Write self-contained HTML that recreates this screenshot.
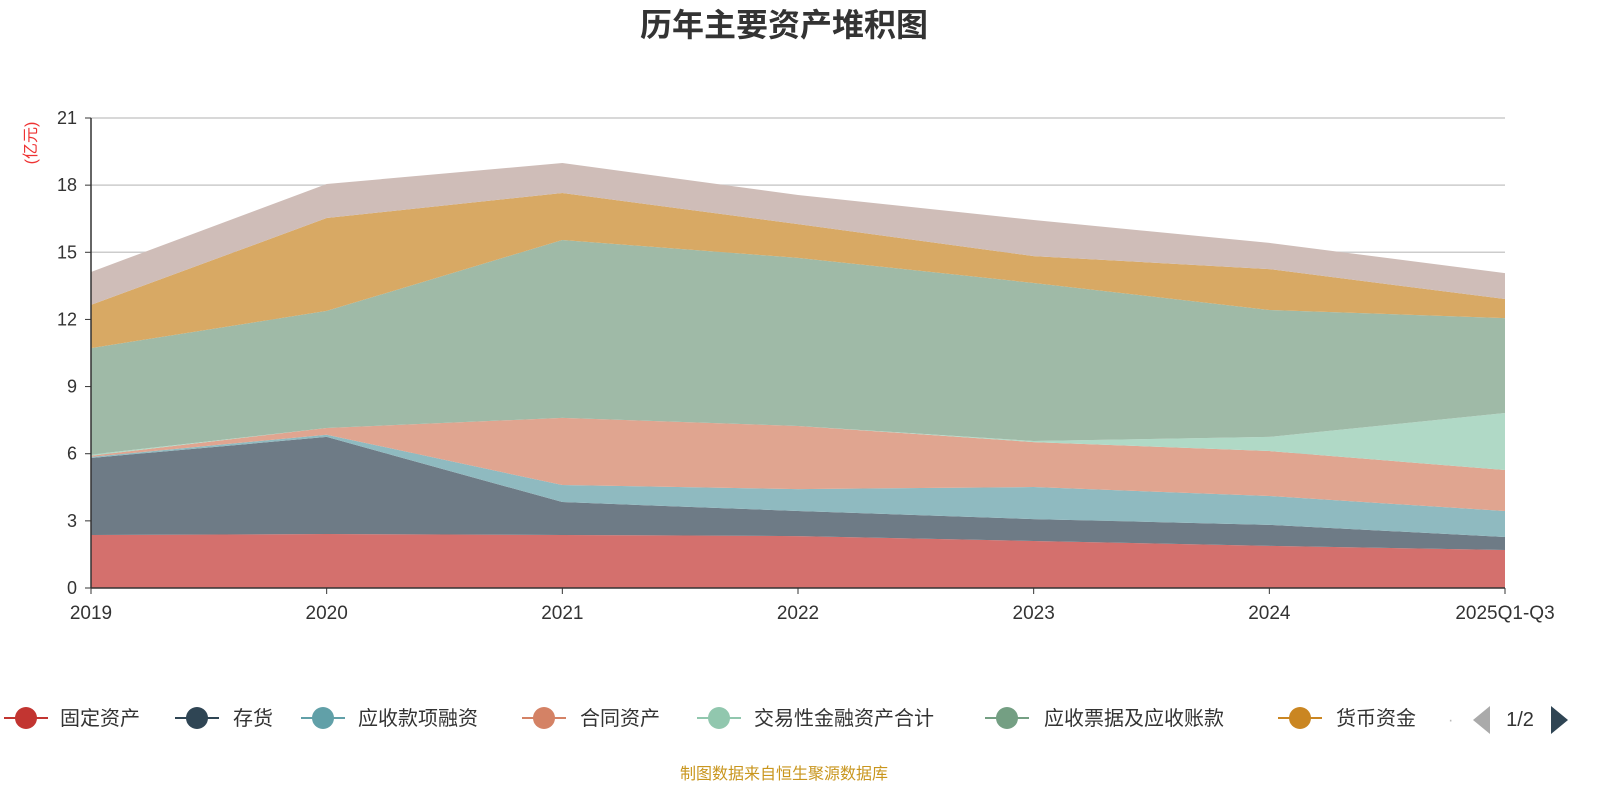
<!DOCTYPE html>
<html><head><meta charset="utf-8">
<style>
body{margin:0;background:#fff;width:1600px;height:800px;overflow:hidden;font-family:"Liberation Sans","Noto Sans CJK SC",sans-serif;}
</style></head>
<body>
<svg id="chart" width="1600" height="800" xmlns="http://www.w3.org/2000/svg" font-family="Liberation Sans, Noto Sans CJK SC, sans-serif">
<text x="784" y="36" text-anchor="middle" font-size="32" font-weight="bold" fill="#333">历年主要资产堆积图</text>
<text transform="translate(36,143) rotate(-90)" text-anchor="middle" font-size="16" fill="#e33">(亿元)</text>
<g id="grid"></g><g id="areas"></g><g id="axes"></g><g id="legend"></g>
<text x="784" y="779" text-anchor="middle" font-size="16" fill="#c9961e">制图数据来自恒生聚源数据库</text>
</svg>
<script>
const categories=["2019","2020","2021","2022","2023","2024","2025Q1-Q3"];
const seriesNames=["固定资产","存货","应收款项融资","合同资产","交易性金融资产合计","应收票据及应收账款","货币资金","其他"];
const s0=[2.37,2.41,2.37,2.32,2.10,1.88,1.70];
const s1=[3.44,4.34,1.47,1.12,0.98,0.94,0.58];
const s2=[0.05,0.10,0.76,0.98,1.43,1.29,1.16];
const s3=[0.05,0.30,3.00,2.82,2.01,2.01,1.83];
const s4=[0.05,0.00,0.00,0.00,0.05,0.63,2.55];
const s5=[4.76,5.23,7.95,7.51,7.06,5.67,4.24];
const s6=[1.93,4.15,2.10,1.51,1.20,1.83,0.85];
const s7=[1.47,1.52,1.34,1.30,1.61,1.17,1.16];
const yTicks=[0,3,6,9,12,15,18,21];
const series=[s0,s1,s2,s3,s4,s5,s6,s7];
const fills=["#d4706d","#6e7b86","#8fbac0","#e0a590","#b0d9c6","#9fbaa7","#d8a964","#cfbdb8"];
const lineCols=["#c23531","#2f4554","#61a0a8","#d48265","#91c7ae","#749f83","#ca8622"];
const NS="http://www.w3.org/2000/svg";
const X0=91,X1=1505,Y0=588,Y1=118,YMAX=21;
const xs=i=>X0+(X1-X0)*i/(categories.length-1);
const ys=v=>Y0-(Y0-Y1)*v/YMAX;
function mk(t,a,p){const e=document.createElementNS(NS,t);for(const k in a)e.setAttribute(k,a[k]);p.appendChild(e);return e;}
const grid=document.getElementById('grid'),areas=document.getElementById('areas'),axes=document.getElementById('axes'),leg=document.getElementById('legend');
yTicks.forEach(t=>{
 if(t>0){const l=mk('line',{x1:X0,x2:X1,y1:ys(t),y2:ys(t),stroke:"#ccc","stroke-width":1.5},grid);
 
 }
 const tk=mk('line',{x1:X0-6,x2:X0,y1:ys(t),y2:ys(t),stroke:"#333"},axes);
 
 
 const tx=mk('text',{x:X0-14,y:ys(t)+6,"text-anchor":"end","font-size":18,fill:"#333"},axes);tx.textContent=t;
 
 
});
let base=categories.map(()=>0);
series.forEach((s,k)=>{
 const top=base.map((b,i)=>b+s[i]);
 let d="M"+categories.map((c,i)=>xs(i)+","+ys(top[i])).join("L");
 for(let i=categories.length-1;i>=0;i--)d+="L"+xs(i)+","+ys(base[i]);
 const p=mk('path',{d:d+"Z",fill:fills[k]},areas);
 
 
 base=top;
});
mk('line',{x1:X0,x2:X0,y1:Y1,y2:Y0,stroke:"#333","stroke-width":1.5},axes);
mk('line',{x1:X0,x2:X1,y1:Y0,y2:Y0,stroke:"#333","stroke-width":1.5},axes);
categories.forEach((c,i)=>{
 mk('line',{x1:xs(i),x2:xs(i),y1:Y0,y2:Y0+6,stroke:"#333"},axes);
 const t=mk('text',{x:xs(i),y:619,"text-anchor":"middle","font-size":19,fill:"#333"},axes);t.textContent=c;
 
 
});
const legX=[26,197,323,544,719,1007,1300];
const legTX=[60,233,358,580,754,1044,1336];
for(let k=0;k<7;k++){
 const g=mk('g',{},leg);
 
 
 mk('line',{x1:legX[k]-22,x2:legX[k]+22,y1:718,y2:718,stroke:lineCols[k],"stroke-width":2},g);
 mk('circle',{cx:legX[k],cy:718,r:11,fill:lineCols[k]},g);
 const t=mk('text',{x:legTX[k],y:725,"font-size":20,fill:"#333"},g);t.textContent=seriesNames[k];
}
const dot=mk('text',{x:1448,y:725,"font-size":16,fill:"#bbb"},leg);dot.textContent="·";
const pl=mk('path',{d:"M1490,706L1473,720L1490,734Z",fill:"#aaa"},leg);


const pt=mk('text',{x:1520,y:726,"text-anchor":"middle","font-size":20,fill:"#333"},leg);pt.textContent="1/2";


const pr=mk('path',{d:"M1551,706L1568,720L1551,734Z",fill:"#2f4554"},leg);


</script>
</body></html>
